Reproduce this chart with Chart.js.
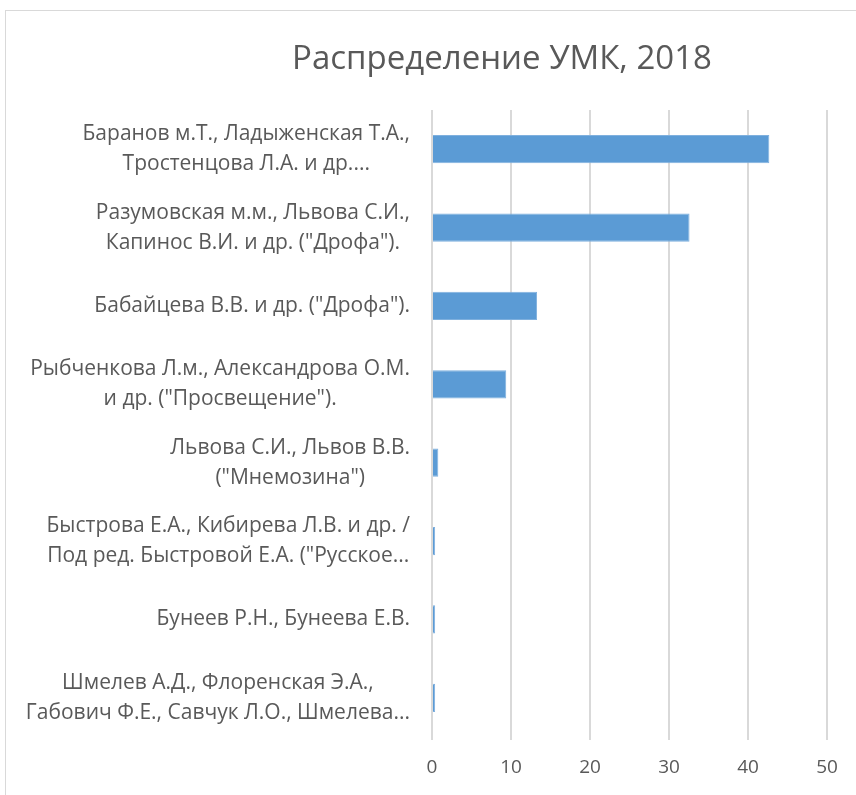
<!DOCTYPE html>
<html>
<head>
<meta charset="utf-8">
<script src="https://cdn.jsdelivr.net/npm/chart.js@4"></script>
<style>
  body { margin: 0; background: #fff; overflow: hidden; }
  #frame {
    position: absolute; left: 5px; top: 10px; width: 900px; height: 900px;
    border: 1px solid #d9d9d9;
  }
  #wrap { position: absolute; left: 0; top: 0; width: 856px; height: 795px; }
</style>
</head>
<body>
<div id="frame"></div>
<div id="wrap"><canvas id="umkChart"></canvas></div>
<script>
const chartTitle = "Распределение УМК, 2018";
const authors = [
  ["Баранов м.Т., Ладыженская Т.А.,", "Тростенцова Л.А. и др...."],
  ["Разумовская м.м., Львова С.И.,", "Капинос В.И. и др. (\"Дрофа\")."],
  ["Бабайцева В.В. и др. (\"Дрофа\")."],
  ["Рыбченкова Л.м., Александрова О.М.", "и др. (\"Просвещение\")."],
  ["Львова С.И., Львов В.В.", "(\"Мнемозина\")"],
  ["Быстрова Е.А., Кибирева Л.В. и др. /", "Под ред. Быстровой Е.А. (\"Русское..."],
  ["Бунеев Р.Н., Бунеева Е.В."],
  ["Шмелев А.Д., Флоренская Э.А.,", "Габович Ф.Е., Савчук Л.О., Шмелева..."],
];
const shares = [42.7, 32.6, 13.3, 9.4, 0.8, 0.4, 0.4, 0.4];
const xTicks = [0, 10, 20, 30, 40, 50];

const textColor = "#595959";
const fontFamily = "'Open Sans', sans-serif";

// labels are centred line by line, block pushed against the axis (like Excel)
const labelPlugin = {
  id: "labelPlugin",
  afterDraw(chart) {
    const ctx = chart.ctx;
    const yScale = chart.scales.y;
    const rightEdge = yScale.right - 22;
    const lineHeight = 30;
    ctx.save();
    ctx.fillStyle = textColor;
    ctx.font = "21px " + fontFamily;
    ctx.textBaseline = "middle";
    ctx.textAlign = "center";
    authors.forEach((lines, i) => {
      const blockWidth = Math.max(...lines.map((l) => ctx.measureText(l).width));
      const cx = rightEdge - blockWidth / 2;
      const cy = yScale.getPixelForValue(i);
      lines.forEach((line, k) => {
        const y = cy + (k - (lines.length - 1) / 2) * lineHeight;
        ctx.fillText(line, cx, y);
      });
    });
    ctx.font = "33px " + fontFamily;
    ctx.fillText(chartTitle, 502, 60);
    ctx.restore();
  },
};

const ctx = document.getElementById("umkChart").getContext("2d");
new Chart(ctx, {
  type: "bar",
  data: {
    labels: authors,
    datasets: [
      {
        data: shares,
        backgroundColor: "#5b9bd5",
        borderColor: "#7fb0de",
        borderWidth: 1,
        barPercentage: 0.9,
        categoryPercentage: 0.4,
      },
    ],
  },
  options: {
    indexAxis: "y",
    responsive: true,
    maintainAspectRatio: false,
    animation: false,
    layout: { padding: { top: 110, right: 29, bottom: 0, left: 0 } },
    plugins: {
      legend: { display: false },
      title: { display: false },
      tooltip: { enabled: false },
    },
    scales: {
      x: {
        min: 0,
        max: 50,
        afterBuildTicks: (scale) => {
          scale.ticks = xTicks.map((v) => ({ value: v }));
        },
        afterFit: (scale) => {
          scale.height = 58;
        },
        border: { display: false },
        grid: { color: "#d9d9d9", lineWidth: 2, drawTicks: true, tickLength: 3 },
        ticks: {
          color: textColor,
          font: { family: fontFamily, size: 19 },
          padding: 16,
        },
      },
      y: {
        afterFit: (scale) => {
          scale.width = 432;
        },
        border: { display: false },
        grid: { display: false },
        ticks: { display: false },
      },
    },
  },
  plugins: [labelPlugin],
});
</script>
</body>
</html>
